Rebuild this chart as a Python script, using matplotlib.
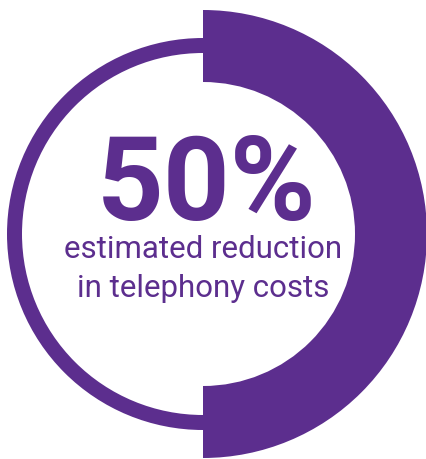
import matplotlib.pyplot as plt
from matplotlib.patches import Wedge

PURPLE = '#5c2e8e'

# data
share = 50  # percent highlighted
headline = f'{share}%'
caption_lines = ['estimated reduction', 'in telephony costs']

W, H = 427, 459
CX, CY = 203, 234

fig = plt.figure(figsize=(W / 100, H / 100), dpi=100)
ax = fig.add_axes([0, 0, 1, 1])
ax.set_xlim(0, W)
ax.set_ylim(H, 0)
ax.set_aspect('equal')
ax.axis('off')

# highlighted part runs clockwise from 12 o'clock; y axis is inverted so
# angles here go clockwise on screen
start = -90
end = start + 360 * share / 100
ax.add_patch(Wedge((CX, CY), 224, start, end, width=72, color=PURPLE, lw=0))
ax.add_patch(Wedge((CX, CY), 196, end, start + 360, width=15, color=PURPLE, lw=0))

ax.text(207, 220, headline, ha='center', va='baseline', color=PURPLE,
        fontsize=84, fontweight='bold', family='Roboto')
for i, line in enumerate(caption_lines):
    ax.text(203, 258 + 39 * i, line, ha='center', va='baseline', color=PURPLE,
            fontsize=22.5, family='Roboto')

fig.savefig('out.png', dpi=100)
